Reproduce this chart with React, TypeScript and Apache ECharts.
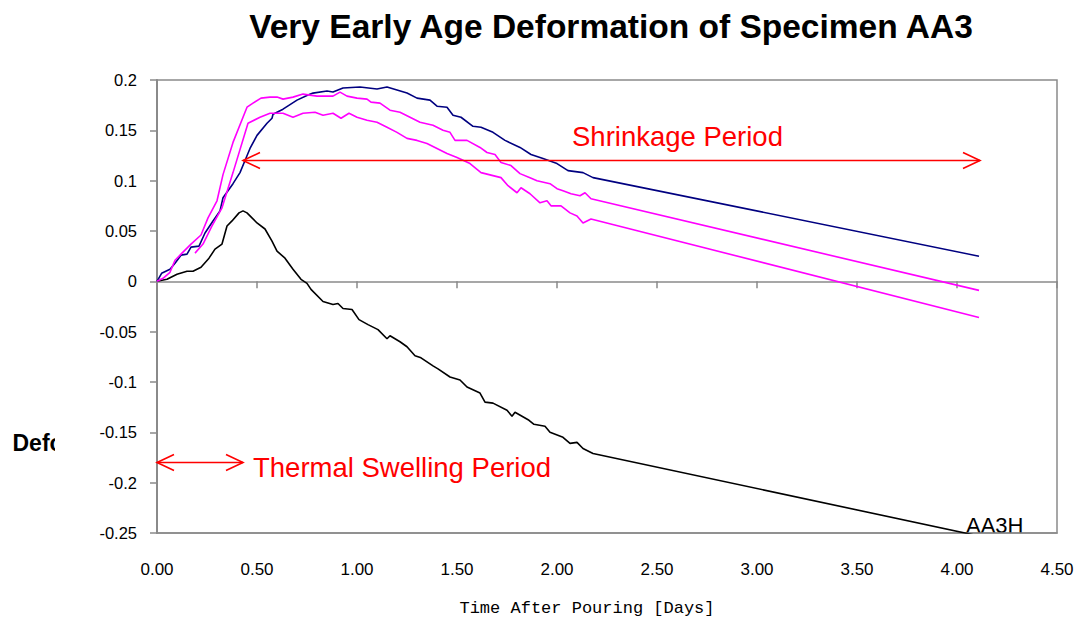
import React, { useEffect, useRef } from "react";
import * as echarts from "echarts";

// Tick configuration
const xMin = 0;
const xMax = 4.5;
const xInterval = 0.5;
const yMin = -0.25;
const yMax = 0.2;
const yInterval = 0.05;

// Series values: [time (days), deformation]
const seriesNavy: number[][] = [
  [0, 0], [0.023, 0.008], [0.065, 0.012], [0.09, 0.018], [0.12, 0.026], [0.15, 0.027],
  [0.17, 0.034], [0.21, 0.035], [0.24, 0.048], [0.28, 0.06], [0.315, 0.07], [0.33, 0.083],
  [0.38, 0.097], [0.415, 0.108], [0.44, 0.12], [0.465, 0.132], [0.5, 0.145], [0.55, 0.157],
  [0.575, 0.162], [0.58, 0.166], [0.63, 0.171], [0.7, 0.18], [0.755, 0.185], [0.78, 0.187],
  [0.85, 0.189], [0.88, 0.188], [0.93, 0.192], [1.015, 0.193], [1.1, 0.191], [1.15, 0.193],
  [1.2, 0.19], [1.25, 0.187], [1.3, 0.182], [1.365, 0.18], [1.4, 0.174], [1.45, 0.173],
  [1.48, 0.165], [1.52, 0.163], [1.58, 0.154], [1.62, 0.153], [1.68, 0.148], [1.74, 0.14],
  [1.815, 0.133], [1.87, 0.126], [1.93, 0.122], [2.0, 0.117], [2.055, 0.11], [2.13, 0.108],
  [2.18, 0.103], [4.11, 0.025],
];

const seriesMagentaUpper: number[][] = [
  [0, 0], [0.03, 0.003], [0.065, 0.009], [0.09, 0.021], [0.12, 0.027], [0.17, 0.037],
  [0.22, 0.046], [0.255, 0.063], [0.3, 0.08], [0.33, 0.106], [0.38, 0.138], [0.45, 0.173],
  [0.48, 0.177], [0.52, 0.182], [0.565, 0.183], [0.6, 0.183], [0.63, 0.181], [0.68, 0.183],
  [0.73, 0.186], [0.8, 0.184], [0.88, 0.184], [0.915, 0.188], [0.95, 0.184], [1.0, 0.182],
  [1.05, 0.181], [1.07, 0.178], [1.115, 0.177], [1.165, 0.17], [1.215, 0.168], [1.265, 0.163],
  [1.315, 0.158], [1.38, 0.155], [1.43, 0.15], [1.465, 0.148], [1.49, 0.14], [1.55, 0.14],
  [1.615, 0.133], [1.65, 0.128], [1.69, 0.126], [1.72, 0.118], [1.77, 0.115], [1.815, 0.107],
  [1.865, 0.103], [1.9, 0.1], [1.965, 0.097], [2.0, 0.092], [2.03, 0.09], [2.07, 0.087],
  [2.115, 0.085], [2.14, 0.088], [2.17, 0.082], [4.11, -0.009],
];

const seriesMagentaLower: number[][] = [
  [0.19, 0.028], [0.23, 0.037], [0.275, 0.055], [0.325, 0.073], [0.38, 0.108], [0.455, 0.157],
  [0.515, 0.163], [0.565, 0.167], [0.63, 0.167], [0.68, 0.163], [0.73, 0.167], [0.79, 0.168],
  [0.83, 0.165], [0.88, 0.167], [0.92, 0.162], [0.96, 0.167], [1.0, 0.163], [1.05, 0.16],
  [1.1, 0.158], [1.15, 0.153], [1.2, 0.148], [1.25, 0.142], [1.3, 0.14], [1.35, 0.137],
  [1.4, 0.132], [1.45, 0.127], [1.5, 0.123], [1.565, 0.117], [1.62, 0.108], [1.68, 0.105],
  [1.72, 0.103], [1.755, 0.095], [1.8, 0.088], [1.82, 0.093], [1.865, 0.087], [1.915, 0.078],
  [1.95, 0.08], [1.97, 0.075], [2.02, 0.075], [2.065, 0.068], [2.1, 0.065], [2.13, 0.058],
  [2.17, 0.062], [4.11, -0.036],
];

const seriesAA3H: number[][] = [
  [0, 0], [0.05, 0.002], [0.1, 0.007], [0.15, 0.01], [0.18, 0.01], [0.22, 0.014],
  [0.26, 0.023], [0.29, 0.032], [0.325, 0.037], [0.35, 0.055], [0.375, 0.06], [0.41, 0.068],
  [0.43, 0.07], [0.45, 0.068], [0.5, 0.058], [0.54, 0.052], [0.575, 0.04], [0.6, 0.03],
  [0.64, 0.023], [0.68, 0.012], [0.72, 0.002], [0.75, -0.002], [0.77, -0.008], [0.83, -0.02],
  [0.88, -0.023], [0.905, -0.022], [0.93, -0.027], [0.975, -0.028], [1.01, -0.038],
  [1.055, -0.043], [1.105, -0.048], [1.15, -0.057], [1.165, -0.054], [1.215, -0.06],
  [1.25, -0.065], [1.29, -0.074], [1.32, -0.076], [1.38, -0.084], [1.405, -0.087],
  [1.465, -0.095], [1.515, -0.098], [1.55, -0.105], [1.615, -0.111], [1.64, -0.12],
  [1.68, -0.121], [1.75, -0.128], [1.775, -0.134], [1.79, -0.13], [1.86, -0.138],
  [1.885, -0.142], [1.94, -0.144], [1.965, -0.15], [2.03, -0.155], [2.065, -0.161],
  [2.1, -0.16], [2.13, -0.166], [2.18, -0.171], [4.11, -0.253],
];

// Annotation arrows: [xStart, xEnd, y]
const arrowShrinkage: number[] = [0.43, 4.115, 0.12];
const arrowThermal: number[] = [0, 0.43, -0.18];

// Texts
const titleText = "Very Early Age Deformation of Specimen AA3";
const yAxisTitle = "Deformation";
const xAxisTitle = "Time After Pouring [Days]";
const shrinkageLabel = "Shrinkage Period";
const thermalLabel = "Thermal Swelling Period";
const seriesLabel = "AA3H";

const FONT = 'Arial, "Liberation Sans", sans-serif';
const GRAY = "#8a8a8a";

export default function App() {
  const ref = useRef<HTMLDivElement>(null);

  useEffect(() => {
    if (!ref.current) return;
    const chart = echarts.init(ref.current, undefined, { renderer: "svg" });

    const renderArrow = (params: any, api: any) => {
      const y = api.value(2);
      const a = api.coord([api.value(0), y]);
      const b = api.coord([api.value(1), y]);
      const hl = 17;
      const hw = 8;
      const st = { stroke: "#ff0000", lineWidth: 1.6, fill: "none" };
      return {
        type: "group",
        children: [
          { type: "line", shape: { x1: a[0], y1: a[1], x2: b[0], y2: b[1] }, style: st },
          {
            type: "polyline",
            shape: { points: [[a[0] + hl, a[1] - hw], [a[0], a[1]], [a[0] + hl, a[1] + hw]] },
            style: st,
          },
          {
            type: "polyline",
            shape: { points: [[b[0] - hl, b[1] - hw], [b[0], b[1]], [b[0] - hl, b[1] + hw]] },
            style: st,
          },
        ],
      };
    };

    const lineSeries = (name: string, data: number[][], color: string, z: number) => ({
      name,
      type: "line",
      data,
      xAxisIndex: 0,
      yAxisIndex: 0,
      showSymbol: false,
      symbol: "none",
      clip: true,
      z,
      lineStyle: { color, width: 1.6 },
      itemStyle: { color },
    });

    chart.setOption({
      animation: false,
      backgroundColor: "#ffffff",
      grid: {
        left: 157,
        right: 27,
        top: 80,
        bottom: 88,
        show: true,
        borderColor: GRAY,
        borderWidth: 1.5,
        backgroundColor: "transparent",
      },
      xAxis: [
        {
          type: "value",
          min: xMin,
          max: xMax,
          interval: xInterval,
          position: "bottom",
          axisLine: { show: true, onZero: false, lineStyle: { color: GRAY, width: 1.5 } },
          axisTick: { show: false },
          splitLine: { show: false },
          axisLabel: {
            formatter: (v: number) => v.toFixed(2),
            fontSize: 17,
            fontFamily: FONT,
            color: "#000",
            margin: 28,
          },
        },
        {
          type: "value",
          min: xMin,
          max: xMax,
          interval: xInterval,
          position: "top",
          axisLine: { show: true, onZero: true, lineStyle: { color: GRAY, width: 1.5 } },
          axisTick: { show: true, inside: true, length: 7, lineStyle: { color: GRAY, width: 1.5 } },
          splitLine: { show: false },
          axisLabel: { show: false },
        },
      ],
      yAxis: {
        type: "value",
        min: yMin,
        max: yMax,
        interval: yInterval,
        axisLine: { show: true, onZero: false, lineStyle: { color: GRAY, width: 2 } },
        axisTick: { show: true, length: 7, lineStyle: { color: GRAY, width: 1.5 } },
        splitLine: { show: false },
        axisLabel: {
          formatter: (v: number) => String(Math.round(v * 100) / 100),
          fontSize: 16.5,
          fontFamily: FONT,
          color: "#000",
          margin: 20,
        },
      },
      series: [
        lineSeries("AA3H", seriesAA3H, "#000000", 3),
        lineSeries("AA3-a", seriesNavy, "#000080", 4),
        lineSeries("AA3-b", seriesMagentaUpper, "#ff00ff", 5),
        lineSeries("AA3-c", seriesMagentaLower, "#ff00ff", 5),
        {
          name: "arrows",
          type: "custom",
          xAxisIndex: 0,
          yAxisIndex: 0,
          clip: false,
          z: 6,
          dimensions: ["x0", "x1", "y"],
          encode: { x: [0, 1], y: 2 },
          data: [arrowShrinkage, arrowThermal],
          renderItem: renderArrow,
        },
      ],
      graphic: {
        elements: [
          {
            type: "text",
            style: {
              text: titleText,
              x: 611,
              y: 26,
              align: "center",
              verticalAlign: "middle",
              fontFamily: FONT,
              fontSize: 33.5,
              fontWeight: "bold",
              fill: "#000",
            },
          },
          {
            type: "text",
            style: {
              text: yAxisTitle,
              x: 12.5,
              y: 443,
              align: "left",
              verticalAlign: "middle",
              fontFamily: FONT,
              fontSize: 23,
              fontWeight: "bold",
              fill: "#000",
              width: 62,
              overflow: "truncate",
              ellipsis: "",
            },
          },
          {
            type: "rect",
            shape: { x: 55, y: 425, width: 23, height: 36 },
            style: { fill: "#ffffff" },
            z: 10,
          },
          {
            type: "text",
            style: {
              text: xAxisTitle,
              x: 587,
              y: 608,
              align: "center",
              verticalAlign: "middle",
              fontFamily: '"Liberation Mono", "DejaVu Sans Mono", monospace',
              fontSize: 17,
              fill: "#000",
            },
          },
          {
            type: "text",
            style: {
              text: shrinkageLabel,
              x: 572,
              y: 136.6,
              align: "left",
              verticalAlign: "middle",
              fontFamily: FONT,
              fontSize: 27.5,
              fill: "#ff0000",
            },
          },
          {
            type: "text",
            style: {
              text: thermalLabel,
              x: 253,
              y: 467.6,
              align: "left",
              verticalAlign: "middle",
              fontFamily: FONT,
              fontSize: 27.5,
              fill: "#ff0000",
            },
          },
          {
            type: "text",
            style: {
              text: seriesLabel,
              x: 966,
              y: 525.5,
              align: "left",
              verticalAlign: "middle",
              fontFamily: FONT,
              fontSize: 22,
              fill: "#000",
            },
          },
        ],
      },
    });

    return () => chart.dispose();
  }, []);

  return (
    <div
      ref={ref}
      style={{ position: "fixed", left: 0, top: 0, width: 1084, height: 621, background: "#fff" }}
    />
  );
}
